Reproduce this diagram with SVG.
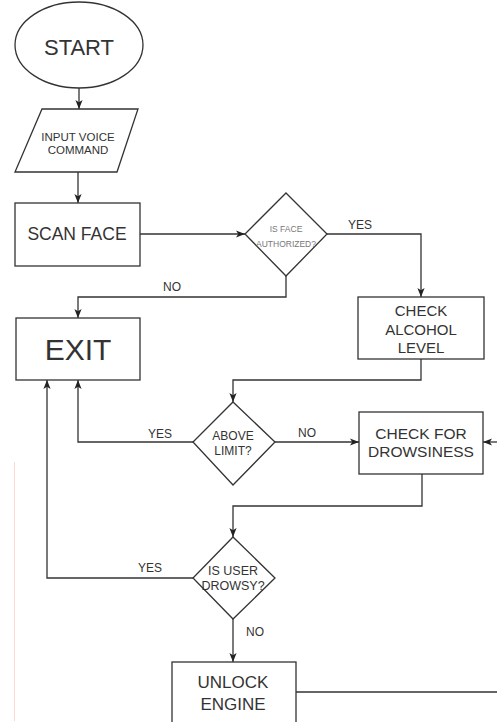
<svg xmlns="http://www.w3.org/2000/svg" width="497" height="722" viewBox="0 0 497 722">
<defs>
<marker id="arr" viewBox="0 0 10 10" refX="10" refY="5" markerWidth="9" markerHeight="9" orient="auto" markerUnits="userSpaceOnUse">
<path d="M0,1 L10,5 L0,9 L2.5,5 z" fill="#222"/>
</marker>
<style>
.shape{fill:#fff;stroke:#333;stroke-width:1.3}
.conn{fill:none;stroke:#333;stroke-width:1.3}
text{font-family:"Liberation Sans",Arial,sans-serif;fill:#333;text-anchor:middle}
.lbl{font-size:12px}
.tiny{font-size:8.5px;fill:#777}
</style>
</defs>
<rect x="0" y="0" width="497" height="722" fill="#fff"/>
<line x1="14.5" y1="462" x2="14.5" y2="721" stroke="#fcd8d0" stroke-width="1"/>
<g id="connectors">
<path class="conn" d="M79,88 V109" marker-end="url(#arr)"/>
<path class="conn" d="M78,172 V203" marker-end="url(#arr)"/>
<path class="conn" d="M140,234 H245" marker-end="url(#arr)"/>
<path class="conn" d="M327,234 H421 V297" marker-end="url(#arr)"/>
<path class="conn" d="M286,276 V297 H78 V318" marker-end="url(#arr)"/>
<path class="conn" d="M421,359 V380 H233 V402" marker-end="url(#arr)"/>
<path class="conn" d="M193,442 H78 V380" marker-end="url(#arr)"/>
<path class="conn" d="M275,442 H359" marker-end="url(#arr)"/>
<path class="conn" d="M497,442 H483" marker-end="url(#arr)"/>
<path class="conn" d="M422,474 V506 H233 V537" marker-end="url(#arr)"/>
<path class="conn" d="M193,578 H47 V380" marker-end="url(#arr)"/>
<path class="conn" d="M233,619 V662" marker-end="url(#arr)"/>
<path class="conn" d="M296,692 H497"/>
<text class="lbl" x="360" y="229">YES</text>
<text class="lbl" x="172" y="291">NO</text>
<text class="lbl" x="160" y="438">YES</text>
<text class="lbl" x="307" y="437">NO</text>
<text class="lbl" x="150" y="572">YES</text>
<text class="lbl" x="255" y="636">NO</text>
</g>
<g id="start">
<ellipse class="shape" cx="79" cy="45" rx="64" ry="43"/>
<text x="79" y="55" font-size="22">START</text>
</g>
<g id="input">
<polygon class="shape" points="42,109 138,109 117,172 15,172"/>
<text x="78" y="141" font-size="11.5">INPUT VOICE</text>
<text x="78" y="154" font-size="11.5">COMMAND</text>
</g>
<g id="scan">
<rect class="shape" x="15" y="203" width="125" height="63"/>
<text x="77" y="240" font-size="17.5">SCAN FACE</text>
</g>
<g id="auth">
<polygon class="shape" points="286,193 327,234 286,276 245,234"/>
<text class="tiny" x="286" y="232">IS FACE</text>
<text class="tiny" x="286" y="247">AUTHORIZED?</text>
</g>
<g id="exit">
<rect class="shape" x="16" y="318" width="124" height="62"/>
<text x="78" y="360" font-size="30">EXIT</text>
</g>
<g id="alcohol">
<rect class="shape" x="358" y="297" width="126" height="62"/>
<text x="421" y="316" font-size="15">CHECK</text>
<text x="421" y="335" font-size="15">ALCOHOL</text>
<text x="421" y="353" font-size="15">LEVEL</text>
</g>
<g id="above">
<polygon class="shape" points="233,402 275,442 233,485 193,442"/>
<text x="233" y="440" font-size="12">ABOVE</text>
<text x="233" y="455" font-size="12">LIMIT?</text>
</g>
<g id="drowsiness">
<rect class="shape" x="359" y="412" width="124" height="62"/>
<text x="421" y="439" font-size="15.5">CHECK FOR</text>
<text x="421" y="457" font-size="15.5">DROWSINESS</text>
</g>
<g id="drowsy">
<polygon class="shape" points="233,537 275,578 233,619 193,578"/>
<text x="233" y="575" font-size="12.5">IS USER</text>
<text x="233" y="590" font-size="12.5">DROWSY?</text>
</g>
<g id="unlock">
<rect class="shape" x="172" y="662" width="124" height="70"/>
<text x="233" y="688" font-size="17">UNLOCK</text>
<text x="233" y="710" font-size="17">ENGINE</text>
</g>
</svg>
